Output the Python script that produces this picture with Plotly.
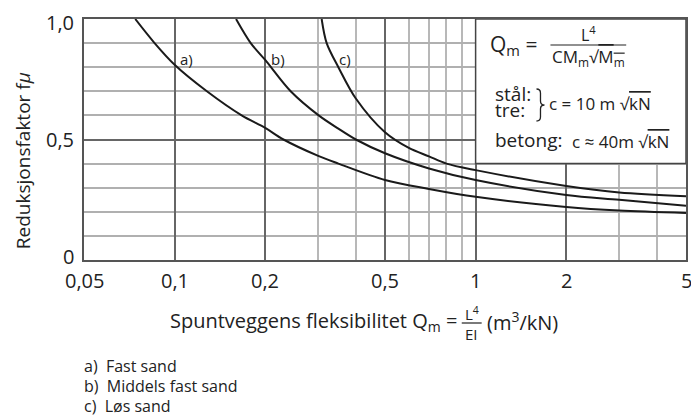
import math
import plotly.graph_objects as go

# Axis ticks
x_ticks = [0.05, 0.1, 0.2, 0.5, 1, 2, 5]
x_tick_text = ["0,05", "0,1", "0,2", "0,5", "1", "2", "5"]
x_minor = [0.3, 0.4, 0.6, 0.7, 0.8, 0.9, 3, 4]
y_ticks = [0, 0.5, 1.0]
y_tick_text = ["0", "0,5", "1,0"]

# a) Fast sand
curve_a_x = [0.074, 0.0858, 0.1, 0.128, 0.167, 0.2, 0.23, 0.3, 0.35, 0.5, 0.7, 1, 2, 3, 5]
curve_a_y = [1.0, 0.9, 0.81, 0.7, 0.6, 0.548, 0.5, 0.432, 0.40, 0.332, 0.295, 0.262, 0.22, 0.205, 0.195]
# b) Middels fast sand
curve_b_x = [0.16, 0.179, 0.2, 0.243, 0.301, 0.35, 0.4, 0.5, 0.7, 1, 2, 3, 5]
curve_b_y = [1.0, 0.9, 0.83, 0.7, 0.6, 0.545, 0.50, 0.443, 0.38, 0.332, 0.27, 0.25, 0.225]
# c) Løs sand
curve_c_x = [0.308, 0.32, 0.35, 0.4, 0.5, 0.6, 0.7, 0.8, 1, 2, 3, 5]
curve_c_y = [1.0, 0.9, 0.8, 0.67, 0.53, 0.465, 0.43, 0.40, 0.373, 0.307, 0.28, 0.265]

curve_names = ["a)", "b)", "c)"]
curve_label_x = [0.1096, 0.22, 0.367]
curve_label_y = [0.835, 0.835, 0.835]
legend_lines = ["a)  Fast sand", "b)  Middels fast sand", "c)  Løs sand"]

W, H = 691, 419
L, R, T, B = 84, 3, 19, 159
PW, PH = W - L - R, H - T - B
FONT = "Open Sans"
INK = "#222"


def px(xp):
    return (xp - L) / PW


def py(yp):
    return (H - B - yp) / PH


def label(xp, yp, text, size, xanchor="center", **kw):
    """Text placed by pixel position, vertically centred on yp."""
    return dict(x=px(xp), y=py(yp), xref="paper", yref="paper", xanchor=xanchor,
                yanchor="middle", text=text, showarrow=False,
                font=dict(size=size, color=INK, family=FONT), **kw)


fig = go.Figure()
for xs, ys in [(curve_a_x, curve_a_y), (curve_b_x, curve_b_y), (curve_c_x, curve_c_y)]:
    fig.add_trace(go.Scatter(x=xs, y=ys, mode="lines",
                             line=dict(color="#1a1a1a", width=2, shape="spline", smoothing=0.9),
                             showlegend=False, hoverinfo="skip"))

ann = []
# x tick labels, placed on the log axis a little below the frame
for v, t in zip(x_ticks, x_tick_text):
    ann.append(dict(x=math.log10(v), y=py(280), xref="x", yref="paper", text=t,
                    showarrow=False, xanchor="center", yanchor="middle",
                    font=dict(size=20, color=INK, family=FONT)))
# y tick labels, right-aligned left of the frame; the bottom one sits slightly raised
y_tick_nudge = [-4, 0, 3]
for v, t, dy in zip(y_ticks, y_tick_text, y_tick_nudge):
    ann.append(dict(x=px(76), y=v, xref="paper", yref="y", yshift=-dy, text=t,
                    showarrow=False, xanchor="right", yanchor="middle",
                    font=dict(size=20, color=INK, family=FONT)))

for name, lx, ly in zip(curve_names, curve_label_x, curve_label_y):
    ann.append(dict(x=math.log10(lx), y=ly, xref="x", yref="y", text=name, showarrow=False,
                    xanchor="center", yanchor="middle",
                    font=dict(size=15, color=INK, family=FONT)))

# Y axis title
ann.append(label(23, 161, "Reduksjonsfaktor f<i>μ</i>", 19, textangle=-90))

# X axis title with stacked fraction
ann.append(label(460, 321, "Spuntveggens fleksibilitet Q<sub>m</sub> =", 20, xanchor="right"))
ann.append(label(473, 313, "L<sup>4</sup>", 15))
ann.append(label(473, 334, "EI", 15))
ann.append(label(486, 321, "(m<sup>3</sup>/kN)", 20, xanchor="left"))

# Soil legend below the chart
for i, t in enumerate(legend_lines):
    ann.append(label(82, 366 + 20 * i, t, 16, xanchor="left"))

# Formula box contents
ann.append(label(489, 45, "Q<sub>m</sub> =", 21, xanchor="left"))
ann.append(label(590, 34, "L<sup>4</sup>", 16))
ann.append(label(590, 58, "CM<sub>m</sub>√<span style='text-decoration:overline'>M<sub>m</sub></span>", 17))
ann.append(label(494, 94, "stål:", 19, xanchor="left"))
ann.append(label(494, 110, "tre:", 19, xanchor="left"))
ann.append(label(549, 103, "c = 10 m √<span style='text-decoration:overline'>kN</span>", 17, xanchor="left"))
ann.append(label(494, 140, "betong:", 19, xanchor="left"))
ann.append(label(572, 141, "c ≈ 40m √<span style='text-decoration:overline'>kN</span>", 17, xanchor="left"))

shapes = [
    # white formula box in the upper right, bounded by x=1 and y=0.4
    dict(type="rect", xref="x", yref="y", x0=1, x1=5, y0=0.4, y1=1.0,
         fillcolor="white", line=dict(color="#444", width=1.5), layer="above"),
    # fraction bars
    dict(type="line", xref="paper", yref="paper", x0=px(552), x1=px(628), y0=py(45), y1=py(45),
         line=dict(color=INK, width=1.2)),
    dict(type="line", xref="paper", yref="paper", x0=px(463), x1=px(483), y0=py(323), y1=py(323),
         line=dict(color=INK, width=1.2)),
]
# curly brace joining "stål:" and "tre:"
bx = [px(v) for v in (538, 542, 546)]
by = [py(v) for v in (89, 93, 101, 105, 109, 117, 121)]
brace = (f"M {bx[0]},{by[0]} Q {bx[1]},{by[0]} {bx[1]},{by[1]} L {bx[1]},{by[2]} "
         f"Q {bx[1]},{by[3]} {bx[2]},{by[3]} Q {bx[1]},{by[3]} {bx[1]},{by[4]} "
         f"L {bx[1]},{by[5]} Q {bx[1]},{by[6]} {bx[0]},{by[6]}")
shapes.append(dict(type="path", xref="paper", yref="paper", path=brace,
                   line=dict(color=INK, width=1.3)))

fig.update_layout(
    width=W, height=H, margin=dict(l=L, r=R, t=T, b=B),
    paper_bgcolor="white", plot_bgcolor="white",
    font=dict(family=FONT, size=20, color=INK),
    annotations=ann, shapes=shapes, showlegend=False,
    xaxis=dict(type="log", range=[math.log10(0.05) - 1e-6, math.log10(5) + 1e-6],
               tickvals=x_ticks, showticklabels=False,
               showgrid=True, gridcolor="#666", gridwidth=1.5,
               minor=dict(tickvals=x_minor, showgrid=True, gridcolor="#b8b8b8", gridwidth=1.5),
               showline=True, linecolor="#555", linewidth=1.5, mirror=True,
               ticks="", zeroline=False),
    yaxis=dict(range=[0, 1], tickvals=y_ticks, showticklabels=False,
               showgrid=True, gridcolor="#666", gridwidth=1.5,
               minor=dict(dtick=0.1, showgrid=True, gridcolor="#b0b0b0", gridwidth=1.5),
               showline=True, linecolor="#555", linewidth=1.5, mirror=True,
               ticks="", zeroline=False),
)

fig.write_html("out.html")
